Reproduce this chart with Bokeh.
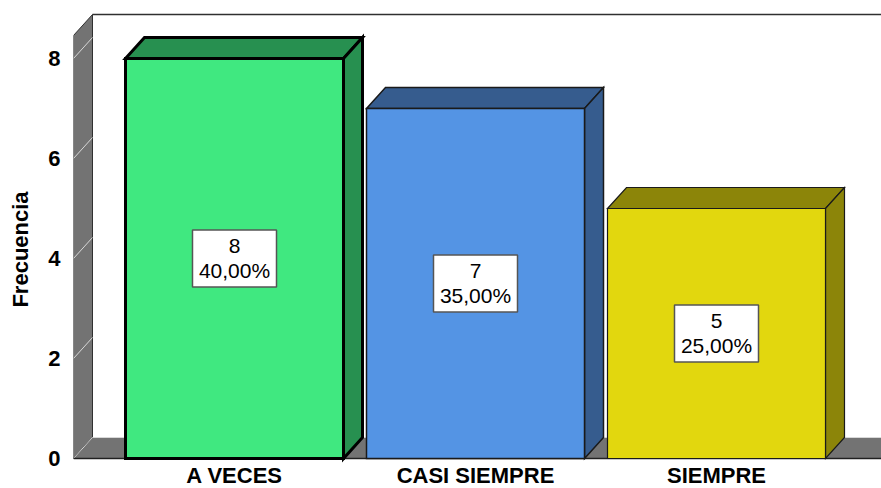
from bokeh.plotting import figure
from bokeh.models import Range1d, FixedTicker, ColumnDataSource
from bokeh.core.properties import value
from bokeh.embed import file_html
from bokeh.resources import INLINE

# ---- data ----
categories = ["A VECES", "CASI SIEMPRE", "SIEMPRE"]
counts = [8, 7, 5]
percents = ["40,00%", "35,00%", "25,00%"]
y_ticks = [0, 2, 4, 6, 8]
y_label = "Frecuencia"

front_colors = ["#40E880", "#5494E4", "#E2D70E"]
side_colors = ["#279050", "#365C8E", "#8C8509"]
outline_w = [3, 1.5, 1.2]

# ---- geometry (screen-pixel scales) ----
W, H = 881, 488
LEFT, TOP = 73, 10
ZERO_Y = 458.0          # screen y of count 0
XS = 241.0              # px per category step
YS = 50.0               # px per count unit
x0 = -(234.0 - LEFT) / XS
x1 = x0 + (W - LEFT) / XS
y1 = (ZERO_Y - TOP) / YS
y0 = -(H - ZERO_Y) / YS
DX = 19.0 / XS
DY = 21.0 / YS
BW = 218.0 / XS
WALL_TOP = 8.46

FONT = "Liberation Sans"

p = figure(width=W, height=H, output_backend="svg", toolbar_location=None,
           x_range=Range1d(x0, x1), y_range=Range1d(y0, y1),
           x_axis_location=None, y_axis_location="left",
           min_border_left=LEFT, min_border_top=TOP, min_border_right=0,
           min_border_bottom=0, outline_line_color=None,
           background_fill_color="white", border_fill_color="white")
p.xgrid.visible = False
p.ygrid.visible = False

# back wall top edge
p.line([x0 + DX, x1], [WALL_TOP + DY, WALL_TOP + DY], line_color="#303030", line_width=1.5)

# left wall
p.patch([x0, x0, x0 + DX, x0 + DX], [0, WALL_TOP, WALL_TOP + DY, DY],
        fill_color="#737373", line_color="#303030", line_width=1)
# floor
p.patch([x0, x1, x1, x0 + DX], [0, 0, DY, DY],
        fill_color="#737373", line_color="#303030", line_width=1)
# wall gridlines
p.segment(x0=[x0] * len(y_ticks), y0=y_ticks, x1=[x0 + DX] * len(y_ticks),
          y1=[t + DY for t in y_ticks], line_color="#d8d8d8", line_width=1)
p.line([x0 + DX, x1], [DY, DY], line_color="#d8d8d8", line_width=1)
p.line([x0, x1], [0, 0], line_color="#202020", line_width=1.5)

# bars
for i, v in enumerate(counts):
    l, r = i - BW / 2, i + BW / 2
    lw = outline_w[i]
    oc = "black" if i == 0 else "#1a1a1a"
    # top face
    p.patch([l, l + DX, r + DX, r], [v, v + DY, v + DY, v],
            fill_color=side_colors[i], line_color=oc, line_width=lw, line_join="miter")
    # side face
    p.patch([r, r, r + DX, r + DX], [0, v, v + DY, DY],
            fill_color=side_colors[i], line_color=oc, line_width=lw, line_join="miter")
    # front face
    p.patch([l, l, r, r], [0, v, v, 0],
            fill_color=front_colors[i], line_color=oc, line_width=lw, line_join="miter")

# label boxes
src = ColumnDataSource(dict(x=list(range(len(counts))),
                            y=[c / 2 for c in counts],
                            n=[str(c) for c in counts],
                            pct=percents))
p.rect(x="x", y="y", width=84, height=57, width_units="screen", height_units="screen",
       source=src, fill_color="white", line_color="#555555", line_width=1.5)
p.text(x="x", y="y", text="n", source=src, y_offset=-12.5, text_align="center",
       text_baseline="alphabetic", text_font=value(FONT), text_font_size="21px",
       text_color="black")
p.text(x="x", y="y", text="pct", source=src, y_offset=11.5, text_align="center",
       text_baseline="alphabetic", text_font=value(FONT), text_font_size="21px",
       text_color="black")

# category labels
cat_src = ColumnDataSource(dict(x=list(range(len(categories))), y=[0] * len(categories),
                                t=categories))
p.text(x="x", y="y", text="t", source=cat_src, y_offset=17, text_align="center",
       text_baseline="alphabetic", text_font=value(FONT), text_font_size="22px",
       text_font_style="bold", text_color="black")

# y axis
ax = p.yaxis[0]
ax.ticker = FixedTicker(ticks=y_ticks)
ax.axis_line_color = None
ax.major_tick_line_color = None
ax.minor_tick_line_color = None
ax.major_label_standoff = 7
ax.major_label_text_font = FONT
ax.major_label_text_font_size = "22px"
ax.major_label_text_font_style = "bold"
ax.major_label_text_color = "black"
ax.axis_label = y_label
ax.axis_label_text_font = FONT
ax.axis_label_text_font_size = "22px"
ax.axis_label_text_font_style = "bold"
ax.axis_label_text_color = "black"
ax.axis_label_standoff = 12

open("out.html", "w").write(file_html(p, INLINE))
